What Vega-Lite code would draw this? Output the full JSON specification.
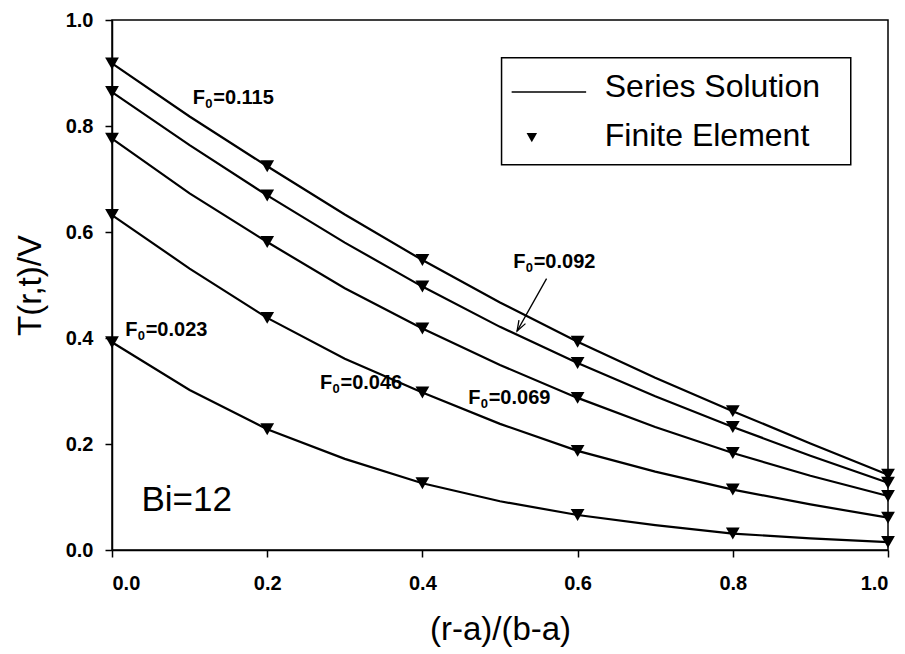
{
  "$schema": "https://vega.github.io/schema/vega-lite/v6.json",
  "width": 776,
  "height": 530,
  "autosize": {"type": "none"},
  "padding": {"left": 112, "top": 20, "right": 17, "bottom": 104},
  "background": "white",
  "config": {
    "view": {"stroke": "black", "strokeWidth": 1.5},
    "font": "Liberation Sans",
    "axis": {
      "grid": false,
      "domainColor": "black",
      "domainWidth": 1.5,
      "tickColor": "black",
      "tickWidth": 1.5,
      "tickSize": 7,
      "labelFont": "Liberation Sans",
      "labelFontWeight": "bold",
      "labelFontSize": 20,
      "labelColor": "black",
      "titleFont": "Liberation Sans",
      "titleFontWeight": "normal",
      "titleColor": "black"
    }
  },
  "datasets": {
    "series": [
      {"x": 0.0, "y": 0.918, "F0": "0.115"}, {"x": 0.1, "y": 0.818, "F0": "0.115"}, {"x": 0.2, "y": 0.724, "F0": "0.115"}, {"x": 0.3, "y": 0.633, "F0": "0.115"}, {"x": 0.4, "y": 0.547, "F0": "0.115"}, {"x": 0.5, "y": 0.467, "F0": "0.115"}, {"x": 0.6, "y": 0.393, "F0": "0.115"}, {"x": 0.7, "y": 0.325, "F0": "0.115"}, {"x": 0.8, "y": 0.262, "F0": "0.115"}, {"x": 0.9, "y": 0.201, "F0": "0.115"}, {"x": 1.0, "y": 0.142, "F0": "0.115"},
      {"x": 0.0, "y": 0.864, "F0": "0.092"}, {"x": 0.1, "y": 0.764, "F0": "0.092"}, {"x": 0.2, "y": 0.669, "F0": "0.092"}, {"x": 0.3, "y": 0.580, "F0": "0.092"}, {"x": 0.4, "y": 0.497, "F0": "0.092"}, {"x": 0.5, "y": 0.421, "F0": "0.092"}, {"x": 0.6, "y": 0.353, "F0": "0.092"}, {"x": 0.7, "y": 0.290, "F0": "0.092"}, {"x": 0.8, "y": 0.232, "F0": "0.092"}, {"x": 0.9, "y": 0.178, "F0": "0.092"}, {"x": 1.0, "y": 0.127, "F0": "0.092"},
      {"x": 0.0, "y": 0.776, "F0": "0.069"}, {"x": 0.1, "y": 0.673, "F0": "0.069"}, {"x": 0.2, "y": 0.581, "F0": "0.069"}, {"x": 0.3, "y": 0.494, "F0": "0.069"}, {"x": 0.4, "y": 0.418, "F0": "0.069"}, {"x": 0.5, "y": 0.349, "F0": "0.069"}, {"x": 0.6, "y": 0.287, "F0": "0.069"}, {"x": 0.7, "y": 0.232, "F0": "0.069"}, {"x": 0.8, "y": 0.183, "F0": "0.069"}, {"x": 0.9, "y": 0.140, "F0": "0.069"}, {"x": 1.0, "y": 0.102, "F0": "0.069"},
      {"x": 0.0, "y": 0.632, "F0": "0.046"}, {"x": 0.1, "y": 0.531, "F0": "0.046"}, {"x": 0.2, "y": 0.438, "F0": "0.046"}, {"x": 0.3, "y": 0.361, "F0": "0.046"}, {"x": 0.4, "y": 0.297, "F0": "0.046"}, {"x": 0.5, "y": 0.238, "F0": "0.046"}, {"x": 0.6, "y": 0.187, "F0": "0.046"}, {"x": 0.7, "y": 0.148, "F0": "0.046"}, {"x": 0.8, "y": 0.114, "F0": "0.046"}, {"x": 0.9, "y": 0.086, "F0": "0.046"}, {"x": 1.0, "y": 0.061, "F0": "0.046"},
      {"x": 0.0, "y": 0.392, "F0": "0.023"}, {"x": 0.1, "y": 0.302, "F0": "0.023"}, {"x": 0.2, "y": 0.228, "F0": "0.023"}, {"x": 0.3, "y": 0.172, "F0": "0.023"}, {"x": 0.4, "y": 0.126, "F0": "0.023"}, {"x": 0.5, "y": 0.092, "F0": "0.023"}, {"x": 0.6, "y": 0.066, "F0": "0.023"}, {"x": 0.7, "y": 0.047, "F0": "0.023"}, {"x": 0.8, "y": 0.031, "F0": "0.023"}, {"x": 0.9, "y": 0.022, "F0": "0.023"}, {"x": 1.0, "y": 0.015, "F0": "0.023"}
    ],
    "fe": [
      {"x": 0.0, "y": 0.918, "F0": "0.115"}, {"x": 0.2, "y": 0.724, "F0": "0.115"}, {"x": 0.4, "y": 0.547, "F0": "0.115"}, {"x": 0.6, "y": 0.393, "F0": "0.115"}, {"x": 0.8, "y": 0.262, "F0": "0.115"}, {"x": 1.0, "y": 0.142, "F0": "0.115"},
      {"x": 0.0, "y": 0.864, "F0": "0.092"}, {"x": 0.2, "y": 0.669, "F0": "0.092"}, {"x": 0.4, "y": 0.497, "F0": "0.092"}, {"x": 0.6, "y": 0.353, "F0": "0.092"}, {"x": 0.8, "y": 0.232, "F0": "0.092"}, {"x": 1.0, "y": 0.127, "F0": "0.092"},
      {"x": 0.0, "y": 0.776, "F0": "0.069"}, {"x": 0.2, "y": 0.581, "F0": "0.069"}, {"x": 0.4, "y": 0.418, "F0": "0.069"}, {"x": 0.6, "y": 0.287, "F0": "0.069"}, {"x": 0.8, "y": 0.183, "F0": "0.069"}, {"x": 1.0, "y": 0.102, "F0": "0.069"},
      {"x": 0.0, "y": 0.632, "F0": "0.046"}, {"x": 0.2, "y": 0.438, "F0": "0.046"}, {"x": 0.4, "y": 0.297, "F0": "0.046"}, {"x": 0.6, "y": 0.187, "F0": "0.046"}, {"x": 0.8, "y": 0.114, "F0": "0.046"}, {"x": 1.0, "y": 0.061, "F0": "0.046"},
      {"x": 0.0, "y": 0.392, "F0": "0.023"}, {"x": 0.2, "y": 0.228, "F0": "0.023"}, {"x": 0.4, "y": 0.126, "F0": "0.023"}, {"x": 0.6, "y": 0.066, "F0": "0.023"}, {"x": 0.8, "y": 0.031, "F0": "0.023"}, {"x": 1.0, "y": 0.015, "F0": "0.023"}
    ],
    "labels": [
      {"x": 0.104, "y": 0.841, "label": "=0.115"},
      {"x": 0.517, "y": 0.533, "label": "=0.092"},
      {"x": 0.459, "y": 0.275, "label": "=0.069"},
      {"x": 0.268, "y": 0.303, "label": "=0.046"},
      {"x": 0.017, "y": 0.403, "label": "=0.023"}
    ]
  },
  "layer": [
    {
      "data": {"name": "series"},
      "mark": {"type": "line", "color": "black", "strokeWidth": 2.2, "interpolate": "linear"},
      "encoding": {
        "x": {"field": "x", "type": "quantitative", "scale": {"domain": [0, 1], "nice": false},
              "axis": {"values": [0, 0.2, 0.4, 0.6, 0.8, 1.0], "format": ".1f", "title": "(r-a)/(b-a)", "titleFontSize": 33, "labelPadding": 16, "titlePadding": 20}},
        "y": {"field": "y", "type": "quantitative", "scale": {"domain": [0, 1], "nice": false},
              "axis": {"values": [0, 0.2, 0.4, 0.6, 0.8, 1.0], "format": ".1f", "title": "T(r,t)/V", "titleFontSize": 33, "labelPadding": 12, "titlePadding": 18}},
        "detail": {"field": "F0", "type": "nominal"}
      }
    },
    {
      "data": {"name": "fe"},
      "mark": {"type": "point", "shape": "triangle-down", "filled": true, "color": "black", "opacity": 1, "size": 190},
      "encoding": {
        "x": {"field": "x", "type": "quantitative"},
        "y": {"field": "y", "type": "quantitative"}
      }
    },
    {
      "data": {"name": "labels"},
      "mark": {"type": "text", "align": "left", "baseline": "alphabetic", "fontSize": 20, "fontWeight": "bold", "color": "black", "text": "F"},
      "encoding": {
        "x": {"field": "x", "type": "quantitative"},
        "y": {"field": "y", "type": "quantitative"}
      }
    },
    {
      "data": {"name": "labels"},
      "mark": {"type": "text", "align": "left", "baseline": "alphabetic", "fontSize": 13, "fontWeight": "bold", "color": "black", "text": "0", "dx": 12.5, "dy": 4},
      "encoding": {
        "x": {"field": "x", "type": "quantitative"},
        "y": {"field": "y", "type": "quantitative"}
      }
    },
    {
      "data": {"name": "labels"},
      "mark": {"type": "text", "align": "left", "baseline": "alphabetic", "fontSize": 20, "fontWeight": "bold", "color": "black", "dx": 20.5},
      "encoding": {
        "x": {"field": "x", "type": "quantitative"},
        "y": {"field": "y", "type": "quantitative"},
        "text": {"field": "label"}
      }
    },
    {
      "data": {"values": [{"x": 0.560, "y": 0.512, "x2": 0.522, "y2": 0.413}]},
      "mark": {"type": "rule", "color": "black", "strokeWidth": 1.3},
      "encoding": {
        "x": {"field": "x", "type": "quantitative"},
        "y": {"field": "y", "type": "quantitative"},
        "x2": {"field": "x2"},
        "y2": {"field": "y2"}
      }
    },
    {
      "data": {"values": [{"x": 0.522, "y": 0.413}]},
      "mark": {"type": "point", "shape": "M-0.35,-1L0,0L0.35,-1", "filled": false, "color": "black", "strokeWidth": 1.3, "opacity": 1, "size": 450, "angle": 29},
      "encoding": {
        "x": {"field": "x", "type": "quantitative"},
        "y": {"field": "y", "type": "quantitative"}
      }
    },
    {
      "data": {"values": [{"x": 0.038, "y": 0.073, "label": "Bi=12"}]},
      "mark": {"type": "text", "align": "left", "baseline": "alphabetic", "fontSize": 35, "color": "black"},
      "encoding": {
        "x": {"field": "x", "type": "quantitative"},
        "y": {"field": "y", "type": "quantitative"},
        "text": {"field": "label"}
      }
    },
    {
      "data": {"values": [{"x": 0.502, "x2": 0.952, "y": 0.929, "y2": 0.727}]},
      "mark": {"type": "rect", "fill": "white", "stroke": "black", "strokeWidth": 1.5},
      "encoding": {
        "x": {"field": "x", "type": "quantitative"},
        "x2": {"field": "x2"},
        "y": {"field": "y", "type": "quantitative"},
        "y2": {"field": "y2"}
      }
    },
    {
      "data": {"values": [{"x": 0.515, "x2": 0.611, "y": 0.864}]},
      "mark": {"type": "rule", "color": "black", "strokeWidth": 1.5},
      "encoding": {
        "x": {"field": "x", "type": "quantitative"},
        "x2": {"field": "x2"},
        "y": {"field": "y", "type": "quantitative"}
      }
    },
    {
      "data": {"values": [{"x": 0.541, "y": 0.778}]},
      "mark": {"type": "point", "shape": "triangle-down", "filled": true, "color": "black", "opacity": 1, "size": 110},
      "encoding": {
        "x": {"field": "x", "type": "quantitative"},
        "y": {"field": "y", "type": "quantitative"}
      }
    },
    {
      "data": {"values": [{"x": 0.635, "y": 0.855, "label": "Series Solution"}, {"x": 0.635, "y": 0.763, "label": "Finite Element"}]},
      "mark": {"type": "text", "align": "left", "baseline": "alphabetic", "fontSize": 32, "color": "black"},
      "encoding": {
        "x": {"field": "x", "type": "quantitative"},
        "y": {"field": "y", "type": "quantitative"},
        "text": {"field": "label"}
      }
    }
  ]
}
